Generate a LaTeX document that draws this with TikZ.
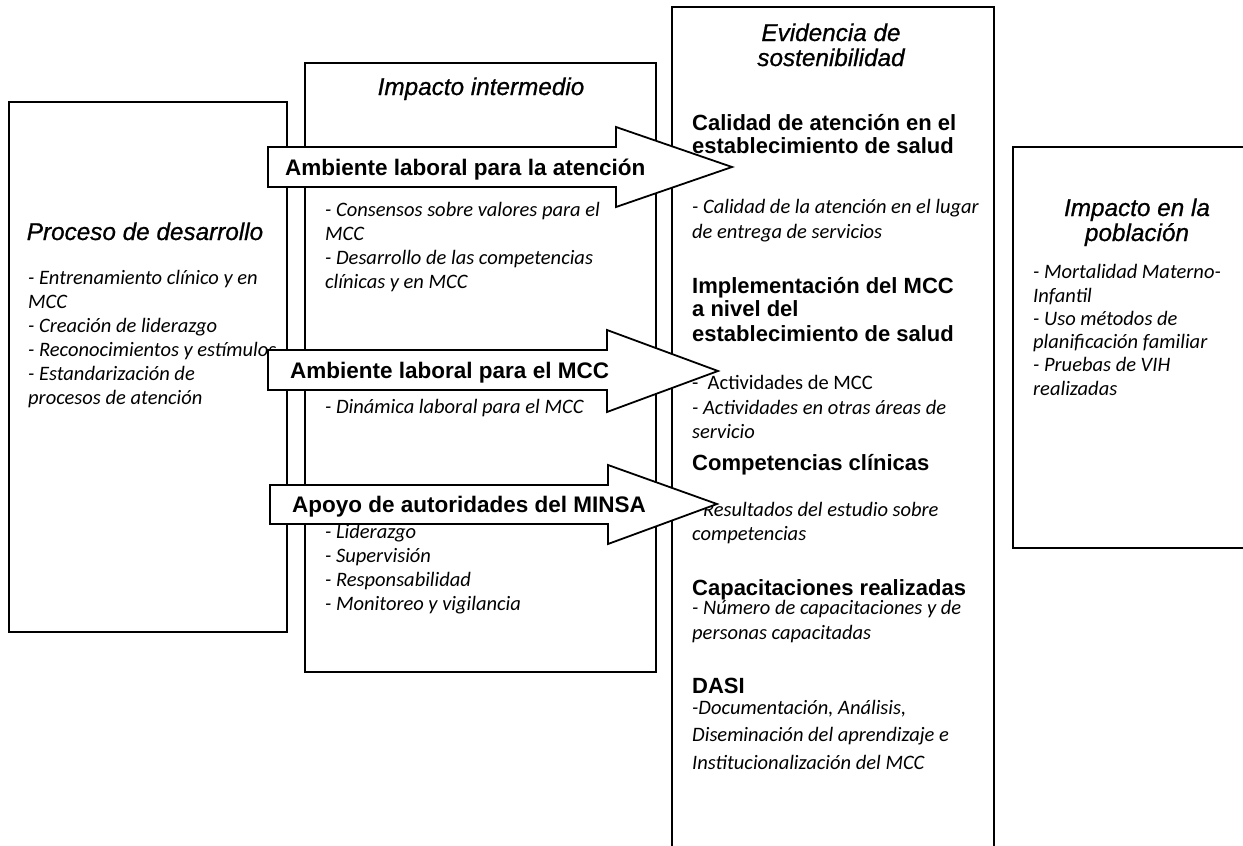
\documentclass[tikz,border=0pt]{standalone}
\usepackage{fontspec}
\setmainfont{Carlito}
\newfontfamily\arialf{Liberation Sans}
\newfontfamily\arialhd[FakeBold=0.8]{Liberation Sans}
\newfontfamily\gillf{Carlito}
\tikzset{
  box/.style={draw=black, line width=1.8pt},
  itm/.style={font=\gillf\itshape\fontsize{20.5}{24}\selectfont, anchor=base west, inner sep=0pt},
  upr/.style={font=\gillf\fontsize{20.5}{24}\selectfont, anchor=base west, inner sep=0pt},
  hd/.style={font=\arialhd\itshape\fontsize{24.3}{25}\selectfont, anchor=base, inner sep=0pt},
  bh/.style={font=\arialf\bfseries\fontsize{22}{24}\selectfont, anchor=base west, inner sep=0pt},
  barrow/.style={draw=black, fill=white, line width=1.8pt, line join=miter},
  alabel/.style={font=\arialf\bfseries\fontsize{22.5}{24}\selectfont, anchor=base west, inner sep=0pt}
}
\begin{document}
\begin{tikzpicture}[x=1pt,y=-1pt]
\useasboundingbox (0,0) rectangle (1243,846);
\clip (0,0) rectangle (1243,846);
% boxes
\draw[box] (9,102) rectangle (287,632);
\draw[box] (305,63) rectangle (656,672);
\draw[box] (672,7) rectangle (994,870);
\draw[box] (1013,147) rectangle (1260,548);

% box 1
\node[hd] (h1) at (145,240) {Proceso de desarrollo};
\node[itm] (p1) at (28,284) {- Entrenamiento clínico y en};
\node[itm] (p2) at (28,308) {MCC};
\node[itm] (p3) at (28,332) {- Creación de liderazgo};
\node[itm] (p4) at (28,356) {- Reconocimientos y estímulos};
\node[itm] (p5) at (28,380) {- Estandarización de};
\node[itm] (p6) at (28,404) {procesos de atención};

% box 2
\node[hd] (h2) at (481,95) {Impacto intermedio};
\node[itm] (i1) at (325,216) {- Consensos sobre valores para el};
\node[itm] (i2) at (325,240) {MCC};
\node[itm] (i3) at (325,264) {- Desarrollo de las competencias};
\node[itm] (i4) at (325,288) {clínicas y en MCC};
\node[itm] (i5) at (325,413) {- Dinámica laboral para el MCC};
\node[itm] (i6) at (325,538) {- Liderazgo};
\node[itm] (i7) at (325,562) {- Supervisión};
\node[itm] (i8) at (325,586) {- Responsabilidad};
\node[itm] (i9) at (325,610) {- Monitoreo y vigilancia};

% box 3
\node[hd] (h3a) at (831,41) {Evidencia de};
\node[hd] (h3b) at (831,66) {sostenibilidad};
\node[bh] (e1) at (692,130) {Calidad de atención en el};
\node[bh] (e2) at (692,153) {establecimiento de salud};
\node[itm] (e3) at (692,213) {- Calidad de la atención en el lugar};
\node[itm] (e4) at (692,238) {de entrega de servicios};
\node[bh] (e5) at (692,293) {Implementación del MCC};
\node[bh] (e6) at (692,316) {a nivel del};
\node[bh] (e7) at (692,341) {establecimiento de salud};
\node[upr] (e8) at (692,389) {-\ \ Actividades de MCC};
\node[itm] (e9) at (692,414) {- Actividades en otras áreas de};
\node[itm] (e10) at (692,438) {servicio};
\node[bh] (e11) at (692,470) {Competencias clínicas};
\node[itm] (e12) at (692,516) {- Resultados del estudio sobre};
\node[itm] (e13) at (692,540) {competencias};
\node[bh] (e14) at (692,595) {Capacitaciones realizadas};
\node[itm] (e15) at (692,614) {- Número de capacitaciones y de};
\node[itm] (e16) at (692,639) {personas capacitadas};
\node[bh] (e17) at (692,693) {DASI};
\node[itm] (e18) at (692,714) {-Documentación, Análisis,};
\node[itm] (e19) at (692,741) {Diseminación del aprendizaje e};
\node[itm] (e20) at (692,769) {Institucionalización del MCC};

% box 4
\node[hd] (h4a) at (1137,216) {Impacto en la};
\node[hd] (h4b) at (1137,241) {población};
\node[itm] (q1) at (1033,278) {- Mortalidad Materno-};
\node[itm] (q2) at (1033,302) {Infantil};
\node[itm] (q3) at (1033,325) {- Uso métodos de};
\node[itm] (q4) at (1033,348) {planificación familiar};
\node[itm] (q5) at (1033,371) {- Pruebas de VIH};
\node[itm] (q6) at (1033,395) {realizadas};

% block arrows
\draw[barrow] (268,147) -- (616,147) -- (616,127) -- (732,167) -- (616,207) -- (616,187) -- (268,187) -- cycle;
\draw[barrow] (268,350) -- (607,350) -- (607,330) -- (718,371) -- (607,412) -- (607,390) -- (268,390) -- cycle;
\draw[barrow] (270,485) -- (608,485) -- (608,465) -- (717,504) -- (608,544) -- (608,524) -- (270,524) -- cycle;
\node[alabel] (a1) at (285,175) {Ambiente laboral para la atención};
\node[alabel] (a2) at (290,378) {Ambiente laboral para el MCC};
\node[alabel] (a3) at (292,512) {Apoyo de autoridades del MINSA};
\end{tikzpicture}
\end{document}
